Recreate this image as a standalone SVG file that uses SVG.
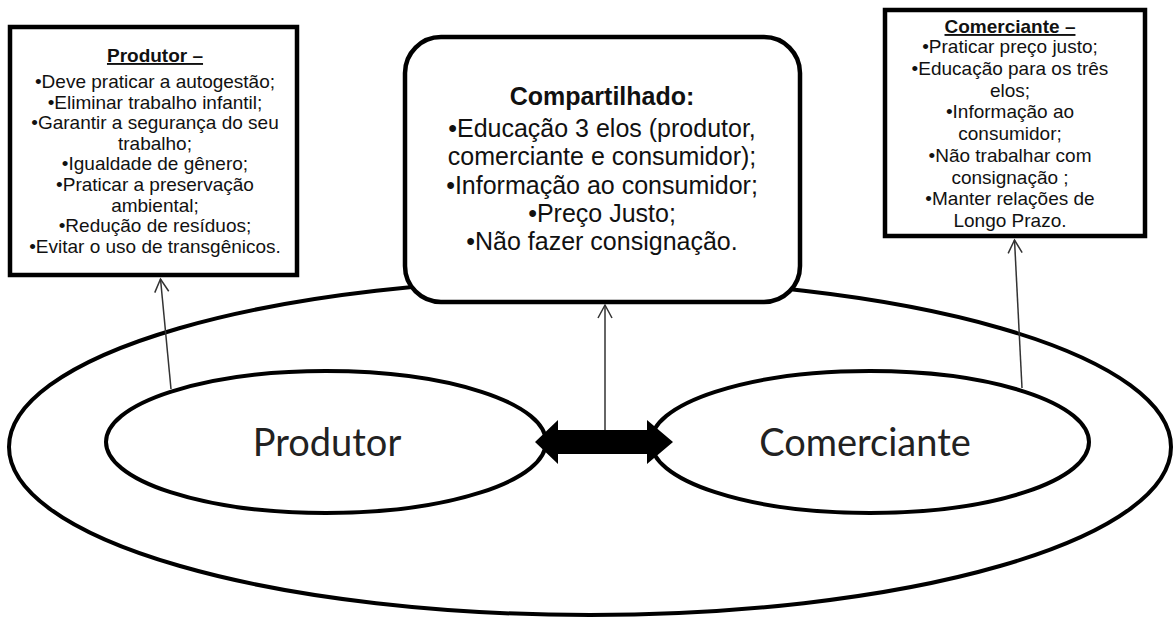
<svg xmlns="http://www.w3.org/2000/svg" width="1176" height="617" viewBox="0 0 1176 617">
  <defs>
    <style>
      .ring { fill: #ffffff; stroke: #000000; stroke-width: 4; }
      .box { fill: #ffffff; stroke: #000000; stroke-width: 4.5; }
      .small { font-family: "Liberation Sans", Arial, sans-serif; font-size: 19px; fill: #111111; text-anchor: middle; }
      .small-title { font-family: "Liberation Sans", Arial, sans-serif; font-size: 19px; font-weight: bold; fill: #111111; text-anchor: middle; text-decoration: underline; }
      .mid { font-family: "Liberation Sans", Arial, sans-serif; font-size: 25px; fill: #111111; text-anchor: middle; }
      .mid-title { font-family: "Liberation Sans", Arial, sans-serif; font-size: 25px; font-weight: bold; fill: #111111; text-anchor: middle; }
      .label { font-family: Lato, "Open Sans", sans-serif; font-size: 38px; fill: #222222; text-anchor: middle; }
      .link { fill: none; stroke: #333333; stroke-width: 1.5; marker-end: url(#openHead); }
    </style>
    <marker id="openHead" markerUnits="userSpaceOnUse" markerWidth="20" markerHeight="20" viewBox="-14 -10 20 20" refX="0" refY="0" orient="auto">
      <path d="M-13,-7 L0,0 L-13,7" fill="none" stroke="#333333" stroke-width="1.5"/>
    </marker>
  </defs>

  <rect width="1176" height="617" fill="#ffffff"/>

  <!-- enclosing ring -->
  <g id="outer">
    <ellipse class="ring" cx="590" cy="447" rx="581" ry="168"/>
  </g>

  <!-- producer notes -->
  <g id="box-produtor">
    <rect class="box" x="10" y="27" width="287" height="248"/>
    <text class="small-title" x="155" y="62">Produtor –</text>
    <text class="small" x="155" y="88">•Deve praticar a autogestão;</text>
    <text class="small" x="155" y="108.6">•Eliminar trabalho infantil;</text>
    <text class="small" x="155" y="129.2">•Garantir a segurança do seu</text>
    <text class="small" x="155" y="149.8">trabalho;</text>
    <text class="small" x="155" y="170.4">•Igualdade de gênero;</text>
    <text class="small" x="155" y="191">•Praticar a preservação</text>
    <text class="small" x="155" y="211.6">ambiental;</text>
    <text class="small" x="155" y="232.2">•Redução de resíduos;</text>
    <text class="small" x="155" y="252.8">•Evitar o uso de transgênicos.</text>
  </g>

  <!-- shared notes -->
  <g id="box-compartilhado">
    <rect class="box" x="405" y="37" width="395" height="265" rx="36" ry="36"/>
    <text class="mid-title" x="602" y="105">Compartilhado:</text>
    <text class="mid" x="602" y="137">•Educação 3 elos (produtor,</text>
    <text class="mid" x="602" y="165">comerciante e consumidor);</text>
    <text class="mid" x="602" y="193.5">•Informação ao consumidor;</text>
    <text class="mid" x="602" y="221.5">•Preço Justo;</text>
    <text class="mid" x="602" y="250">•Não fazer consignação.</text>
  </g>

  <!-- merchant notes -->
  <g id="box-comerciante">
    <rect class="box" x="885" y="10" width="260" height="226"/>
    <text class="small-title" x="1010" y="33">Comerciante –</text>
    <text class="small" x="1010" y="53">•Praticar preço justo;</text>
    <text class="small" x="1010" y="74.75">•Educação para os três</text>
    <text class="small" x="1010" y="96.5">elos;</text>
    <text class="small" x="1010" y="118.25">•Informação ao</text>
    <text class="small" x="1010" y="140">consumidor;</text>
    <text class="small" x="1010" y="161.75">•Não trabalhar com</text>
    <text class="small" x="1010" y="183.5">consignação ;</text>
    <text class="small" x="1010" y="205.25">•Manter relações de</text>
    <text class="small" x="1010" y="227">Longo Prazo.</text>
  </g>

  <!-- actors -->
  <g id="node-produtor">
    <ellipse class="ring" cx="326" cy="442" rx="220" ry="71"/>
    <text class="label" x="327" y="456">Produtor</text>
  </g>
  <g id="node-comerciante">
    <ellipse class="ring" cx="870" cy="442" rx="219" ry="71"/>
    <text class="label" x="865" y="456">Comerciante</text>
  </g>

  <!-- connectors -->
  <g id="connectors">
    <line class="link" x1="171" y1="389" x2="160.5" y2="279"/>
    <line class="link" x1="605" y1="431" x2="605" y2="305"/>
    <line class="link" x1="1022" y1="388" x2="1014.5" y2="240"/>
    <path id="exchange" d="M535,442 L558,420 L558,430 L647,430 L647,420 L673,442 L647,464 L647,454 L558,454 L558,464 Z" fill="#000000"/>
  </g>
</svg>
